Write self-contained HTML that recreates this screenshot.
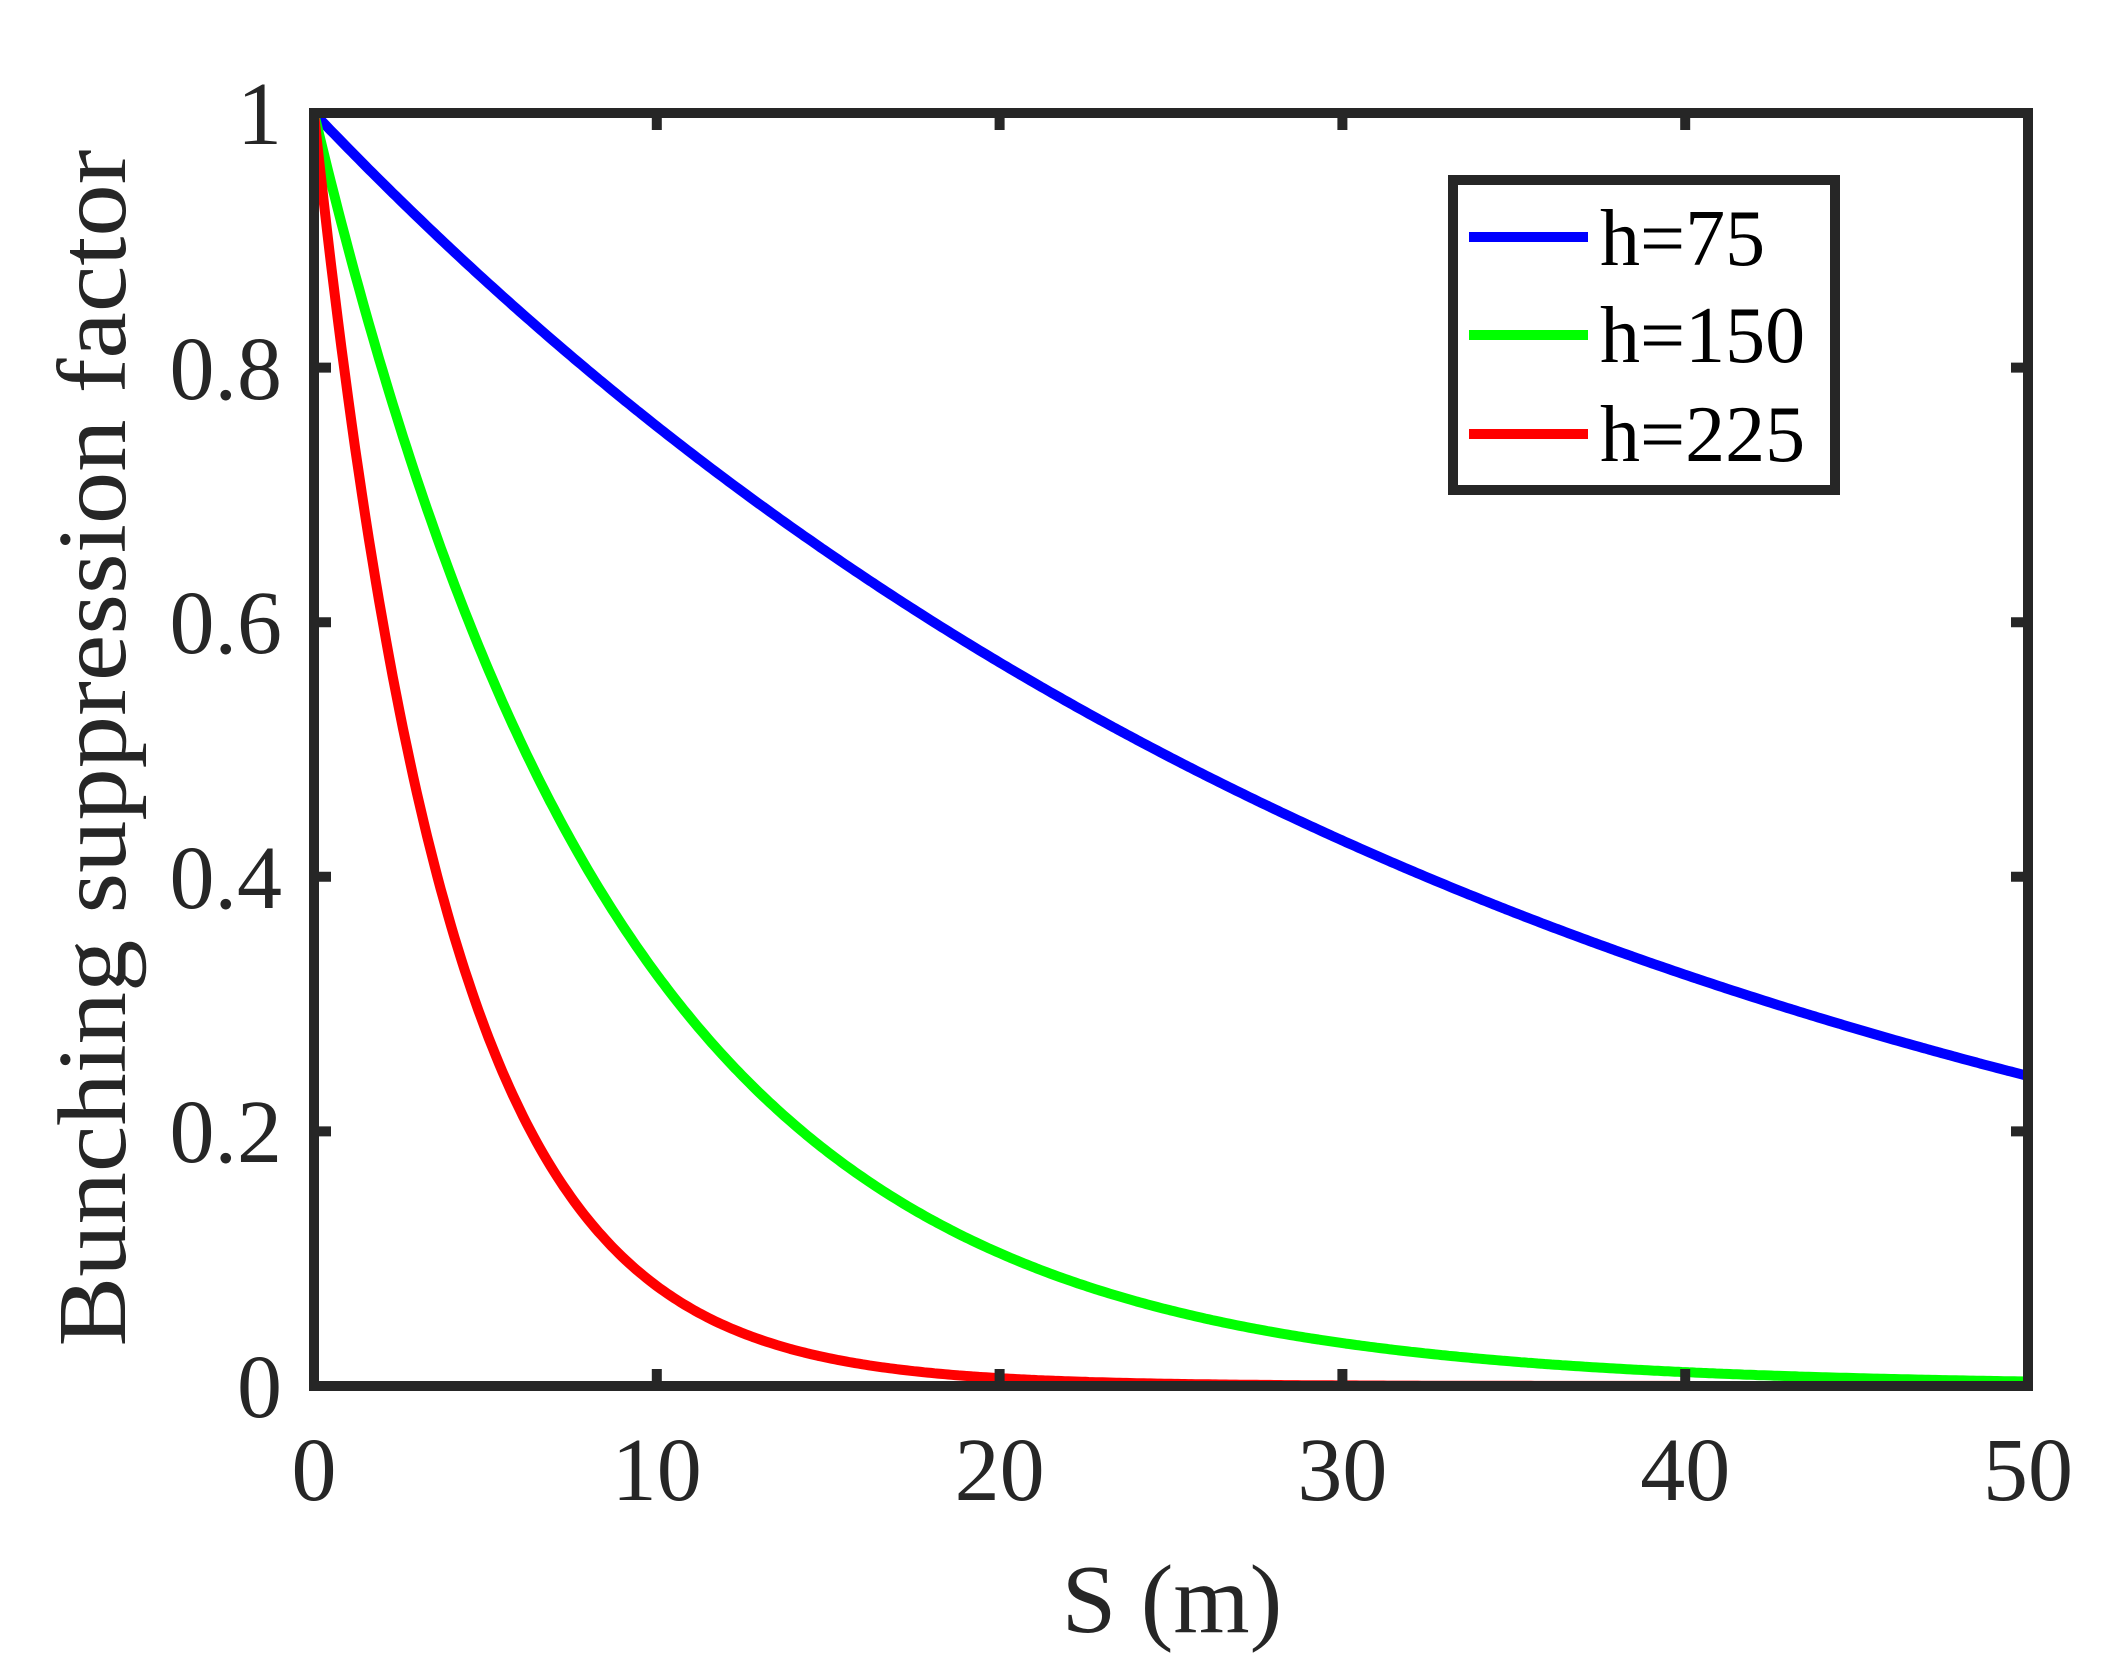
<!DOCTYPE html>
<html><head><meta charset="utf-8"><style>
html,body{margin:0;padding:0;background:#fff;}
svg{display:block;}
svg text{font-family:"Liberation Serif","Times New Roman",serif;}
</style></head><body>
<svg id="s" width="2125" height="1666" viewBox="0 0 2125 1666" xmlns="http://www.w3.org/2000/svg" font-family="'Liberation Serif', serif">
<rect width="2125" height="1666" fill="#fff"/>
<g id="curves" fill="none" stroke-width="10" stroke-linejoin="round"></g>
<g stroke="#262626" stroke-width="10" fill="none">
<rect x="314" y="113" width="1714" height="1273"/>
<path d="M656.8,1386v-17M999.6,1386v-17M1342.4,1386v-17M1685.2,1386v-17M656.8,113v17M999.6,113v17M1342.4,113v17M1685.2,113v17M314,1131.4h17M314,876.8h17M314,622.2h17M314,367.6h17M2028,1131.4h-17M2028,876.8h-17M2028,622.2h-17M2028,367.6h-17"/>
</g>
<g fill="#262626" font-size="90">
<text x="314" y="1500" text-anchor="middle">0</text>
<text x="656.8" y="1500" text-anchor="middle">10</text>
<text x="999.6" y="1500" text-anchor="middle">20</text>
<text x="1342.4" y="1500" text-anchor="middle">30</text>
<text x="1685.2" y="1500" text-anchor="middle">40</text>
<text x="2028" y="1500" text-anchor="middle">50</text>
<text x="282" y="1417" text-anchor="end">0</text>
<text x="282" y="1162" text-anchor="end">0.2</text>
<text x="282" y="908" text-anchor="end">0.4</text>
<text x="282" y="653" text-anchor="end">0.6</text>
<text x="282" y="399" text-anchor="end">0.8</text>
<text x="282" y="144" text-anchor="end">1</text>
<text x="1172" y="1632" text-anchor="middle" font-size="98">S (m)</text>
<text transform="translate(125,748) rotate(-90)" text-anchor="middle" font-size="98" textLength="1197" lengthAdjust="spacingAndGlyphs">Bunching suppression factor</text>
</g>
<rect x="1453" y="180" width="382" height="310" fill="#fff" stroke="#262626" stroke-width="10"/>
<g stroke-width="10">
<line x1="1469" y1="237" x2="1588" y2="237" stroke="#0000ff"/>
<line x1="1469" y1="335" x2="1588" y2="335" stroke="#00ff00"/>
<line x1="1469" y1="434" x2="1588" y2="434" stroke="#ff0000"/>
</g>
<g fill="#000" font-size="80">
<text x="1600" y="265">h=75</text>
<text x="1600" y="362">h=150</text>
<text x="1600" y="461">h=225</text>
</g>
</svg>
<script>
(function(){
var g=document.getElementById('curves');
var ks=[[35.4,'#0000ff'],[8.85,'#00ff00'],[3.93,'#ff0000']];
ks.forEach(function(k){
 var d='';
 for(var i=0;i<=500;i++){var s=i*0.1;var v=Math.exp(-s/k[0]);
  var x=314+s*1714/50,y=1386-v*1273;d+=(i?'L':'M')+x.toFixed(1)+','+y.toFixed(1);}
 var p=document.createElementNS('http://www.w3.org/2000/svg','path');
 p.setAttribute('d',d);p.setAttribute('stroke',k[1]);g.appendChild(p);
});
})();
</script>
</body></html>
